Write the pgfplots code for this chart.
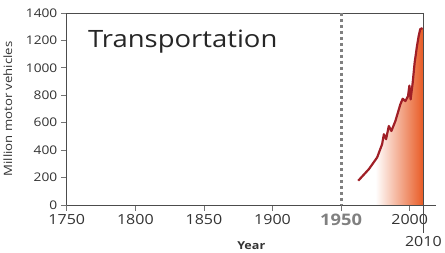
\documentclass[border=0pt]{standalone}
\usepackage{fontspec}
\setmainfont{Open Sans}[FakeStretch=1.15]
\usepackage{pgfplots}
\pgfplotsset{compat=1.18}
\definecolor{curve}{HTML}{A01F26}
\definecolor{fillor}{HTML}{E85A24}
\definecolor{tickc}{HTML}{333333}
\begin{document}
\begin{tikzpicture}
\begin{axis}[
 at={(0,0)}, anchor=south west,
 scale only axis, width=371pt, height=193pt,
 xmin=1750, xmax=2019, ymin=0, ymax=1400,
 axis x line=bottom, axis y line=left,
 axis line style={-, draw=black!70, line width=0.6pt},
 xtick={1750,1800,1850,1900,2000}, ytick={0,200,...,1400},
 tick align=outside, major tick length=6pt,
 tick style={draw=black!55, line width=0.6pt},
 x tick label style={font=\fontsize{14}{16}\selectfont, text=tickc},
 y tick label style={font=\fontsize{12}{14}\selectfont, text=tickc},
 /pgf/number format/1000 sep={},
 /pgf/number format/assume math mode=true,
 scaled ticks=false,
 extra x ticks={1950},
 extra x tick labels={\textbf{1950}},
 extra x tick style={x tick label style={font=\fontsize{16}{18}\selectfont\bfseries, text=black!50}},
 xlabel={\textbf{Year}}, xlabel style={font=\fontsize{11}{13}\selectfont, text=tickc, yshift=2pt},
 ylabel={Million motor vehicles}, ylabel style={font=\fontsize{11.5}{13}\selectfont, text=tickc, yshift=7pt},
 clip=false,
]
\addplot[draw=none, left color=white, right color=fillor, forget plot] coordinates {
(1975,330) (1976.3,346) (1979.9,442) (1981.2,515) (1982.8,479) (1984.8,575) (1986.7,539) (1989.6,612) (1993.2,733) (1994.9,774) (1996.9,757) (1998.8,793) (1999.8,870) (2000.7,769) (2002.2,890) (2003.6,1035) (2005.3,1156) (2006.5,1228) (2007.7,1282) (2009.4,1289) (2010,1289)} \closedcycle;
\addplot[curve, line width=2.2pt, line join=round] coordinates {
(1962.5,176) (1970.3,261) (1976.3,346) (1979.9,442) (1981.2,515) (1982.8,479) (1984.8,575) (1986.7,539) (1989.6,612) (1993.2,733) (1994.9,774) (1996.9,757) (1998.8,793) (1999.8,870) (2000.7,769) (2002.2,890) (2003.6,1035) (2005.3,1156) (2006.5,1228) (2007.7,1282) (2009.4,1289)};
\draw[black!70, line width=0.6pt] (axis cs:1750,1400) -- (axis cs:2010,1400);
\draw[black!70, line width=0.6pt] (axis cs:2010,1400) -- (axis cs:2010,0) -- ([yshift=-28pt]axis cs:2010,0);
\draw[black!50, line width=3pt, dash pattern=on 3pt off 3pt] (axis cs:1950,1400) -- (axis cs:1950,0);
\node[font=\fontsize{14}{16}\selectfont, text=tickc] at ([yshift=-37pt]axis cs:2010,0) {2010};
\node[anchor=west, font=\fontsize{24}{28}\selectfont, text=black!85] at (axis cs:1763,1190) {Transportation};
\end{axis}
\path[use as bounding box] (-66pt,-47pt) rectangle (379pt,206pt);
\end{tikzpicture}
\end{document}
